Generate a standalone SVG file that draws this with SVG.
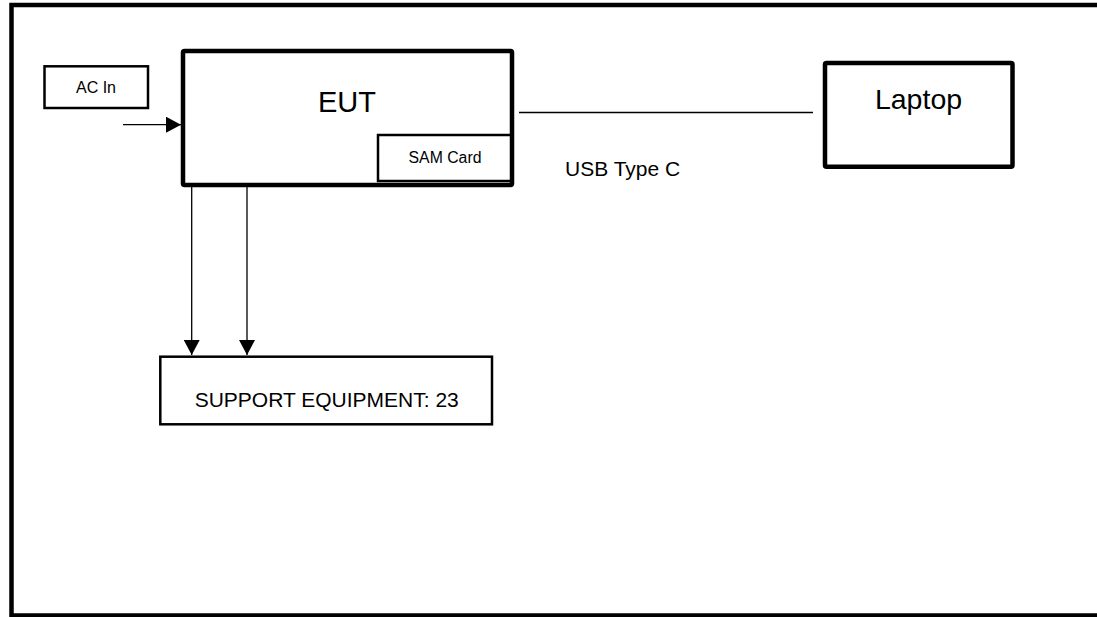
<svg xmlns="http://www.w3.org/2000/svg" width="1097" height="617" viewBox="0 0 1097 617">
<defs>
<style>
text{font-family:"Liberation Sans",Arial,sans-serif;fill:#000}
.thick{fill:#fff;stroke:#000;stroke-width:4.5}
.thin{fill:#fff;stroke:#000;stroke-width:2.5}
.wire{fill:none;stroke:#000;stroke-width:1.3}
</style>
<marker id="arr" viewBox="0 0 15 16" refX="15" refY="8" markerWidth="15" markerHeight="16" markerUnits="userSpaceOnUse" orient="auto">
<path d="M0,0 L15,8 L0,16 Z" fill="#000"/>
</marker>
</defs>
<rect width="1097" height="617" fill="#fff"/>
<path id="frame" d="M1100 5 H11.5 V615.5 H1100" fill="none" stroke="#000" stroke-width="4.5"/>
<g id="connectors">
<line class="wire" x1="123" y1="124.7" x2="181" y2="124.7" marker-end="url(#arr)"/>
<line class="wire" x1="519" y1="112.5" x2="813" y2="112.5"/>
<line class="wire" x1="191.7" y1="187" x2="191.7" y2="355" marker-end="url(#arr)"/>
<line class="wire" x1="247" y1="187" x2="247" y2="355" marker-end="url(#arr)"/>
<text x="565" y="176" font-size="21">USB Type C</text>
</g>
<g id="ac-in">
<rect class="thin" x="44.5" y="66.3" width="103.5" height="41.7"/>
<text x="96" y="93.3" font-size="16" text-anchor="middle">AC In</text>
</g>
<g id="eut">
<rect class="thick" x="183" y="51" width="329" height="134" rx="1.5"/>
<text x="318" y="111.7" font-size="29">EUT</text>
</g>
<g id="sam-card">
<rect class="thin" x="378" y="135" width="133" height="46"/>
<text x="445" y="163.3" font-size="15.8" text-anchor="middle">SAM Card</text>
</g>
<g id="laptop">
<rect class="thick" x="825" y="63" width="187.5" height="103.7" rx="1.5"/>
<text x="918.5" y="109" font-size="28.5" text-anchor="middle">Laptop</text>
</g>
<g id="support">
<rect class="thin" x="160.3" y="356.7" width="331.7" height="67.6" stroke-width="3"/>
<text x="326.7" y="407.3" font-size="21" text-anchor="middle">SUPPORT EQUIPMENT: 23</text>
</g>
</svg>
